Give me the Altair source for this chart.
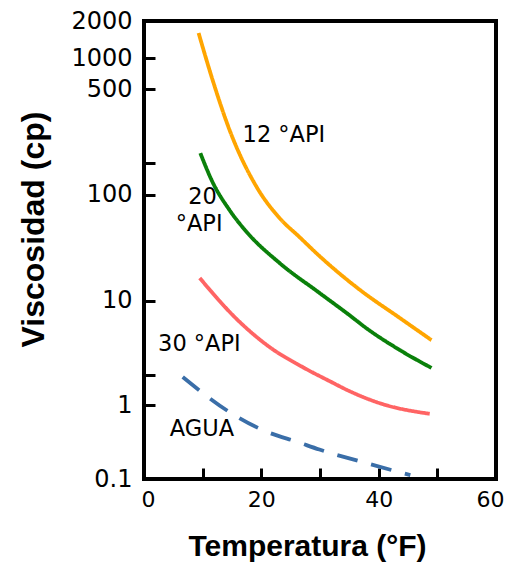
import altair as alt
import pandas as pd

# ---- data ----
series = ["12 °API", "20 °API", "30 °API", "AGUA"]
colors = ["#FFA500", "#0A800A", "#FF6464", "#3A6EA8"]
dashes = [[1, 0], [1, 0], [1, 0], [21, 14]]

temp_12 = [9.3, 11.7, 14.6, 19.2, 23.1, 26.5, 29.9, 36.8, 43.6, 49.0]
visc_12 = [1600, 610, 300, 118, 60, 39.7, 26.3, 12.6, 6.86, 4.25]
temp_20 = [9.6, 11.7, 14.6, 17.5, 23.1, 29.9, 35.0, 37.9, 43.6, 49.0]
visc_20 = [226, 131, 71, 44.3, 22.6, 11.8, 7.3, 5.5, 3.43, 2.33]
temp_30 = [9.5, 15.8, 21.4, 27.0, 31.6, 35.0, 40.7, 48.7]
visc_30 = [16.3, 6.7, 3.66, 2.38, 1.74, 1.38, 1.02, 0.76]
temp_agua = [6.6, 14.6, 20.2, 26.5, 29.9, 37.9, 45.4]
visc_agua = [1.91, 0.80, 0.46, 0.31, 0.25, 0.164, 0.113]

label_text = ["12 °API", "20", "°API", "30 °API", "AGUA"]
label_temp = [16.8, 7.55, 5.4, 2.4, 4.4]
label_visc = [283, 95.7, 52.7, 3.9, 0.474]

y_ticks = [0.1, 1, 2, 10, 100, 200, 500, 1000, 2000]
y_tick_pos = [458, 384, 354, 279.5, 173.5, 142, 68, 37, 0]
x_label_ticks = [0, 20, 40, 60]
x_minor_ticks = [10, 20, 30, 40, 50]
y_minor_ticks = [1, 2, 10, 100, 200, 500, 1000]

rows = []
for name, ts, vs in zip(series, [temp_12, temp_20, temp_30, temp_agua],
                        [visc_12, visc_20, visc_30, visc_agua]):
    for t, v in zip(ts, vs):
        rows.append({"serie": name, "temp": t, "visc": v})
lines_df = pd.DataFrame(rows)
labels_df = pd.DataFrame({"txt": label_text, "temp": label_temp, "visc": label_visc})

xscale = alt.Scale(domain=[0, 60], nice=False, zero=False)
yscale = alt.Scale(type="log", domain=y_ticks, range=y_tick_pos, nice=False)

main_x = alt.Axis(values=x_label_ticks, ticks=False, tickSize=0, domain=False, grid=False,
                  labelFlush=False,
                  labelOffset={"condition": [{"test": "datum.value == 60", "value": -6},
                                             {"test": "datum.value == 0", "value": 4}],
                               "value": 0},
                  labelFont="DejaVu Sans", labelFontSize=22, labelPadding=10, labelColor="black",
                  title="Temperatura (°F)", titleFont="Liberation Sans", titleFontWeight="bold",
                  titleFontSize=30, titleColor="black", titleX=163, titleY=76,
                  titleBaseline="alphabetic", titleAlign="center")
main_y = alt.Axis(values=y_ticks, ticks=False, tickSize=0, domain=False, grid=False,
                  labelFlush=False, format="~g",
                  labelExpr="datum.value == 2 || datum.value == 200 ? '' : datum.label",
                  labelFont="DejaVu Sans", labelFontSize=24, labelPadding=12, labelColor="black",
                  labelBaseline="middle",
                  title="Viscosidad (cp)", titleFont="Liberation Sans", titleFontWeight="bold",
                  titleFontSize=32, titleColor="black", titleX=-101, titleY=208,
                  titleBaseline="alphabetic", titleAlign="center", titleAngle=270)

tick_x = alt.Axis(values=x_minor_ticks, labels=False, domain=False, grid=False, ticks=True,
                  tickSize=11, tickWidth=3, tickColor="black", offset=-11, orient="bottom",
                  title=None)
tick_y = alt.Axis(values=y_minor_ticks, labels=False, domain=False, grid=False, ticks=True,
                  tickSize=11, tickWidth=3, tickColor="black", offset=-11, orient="left",
                  title=None)

lines = alt.Chart(lines_df).mark_line(strokeWidth=3.8, interpolate="monotone").encode(
    x=alt.X("temp:Q", scale=xscale, axis=main_x),
    y=alt.Y("visc:Q", scale=yscale, axis=main_y),
    color=alt.Color("serie:N", scale=alt.Scale(domain=series, range=colors), legend=None),
    strokeDash=alt.StrokeDash("serie:N", scale=alt.Scale(domain=series, range=dashes), legend=None),
    detail="serie:N",
)

texts = alt.Chart(labels_df).mark_text(align="left", baseline="middle", font="DejaVu Sans",
                                       fontSize=22.5, color="black").encode(
    x=alt.X("temp:Q", scale=xscale, axis=tick_x),
    y=alt.Y("visc:Q", scale=yscale, axis=tick_y),
    text="txt:N",
)

chart = alt.layer(lines, texts).resolve_axis(x="independent", y="independent").properties(
    width=352, height=458,
    padding={"left": 136, "top": 13, "right": 8, "bottom": 83},
    autosize=alt.AutoSizeParams(type="none"),
).configure_view(stroke="black", strokeWidth=4)

chart.save("out.html", embed_options={"renderer": "svg", "actions": False})
